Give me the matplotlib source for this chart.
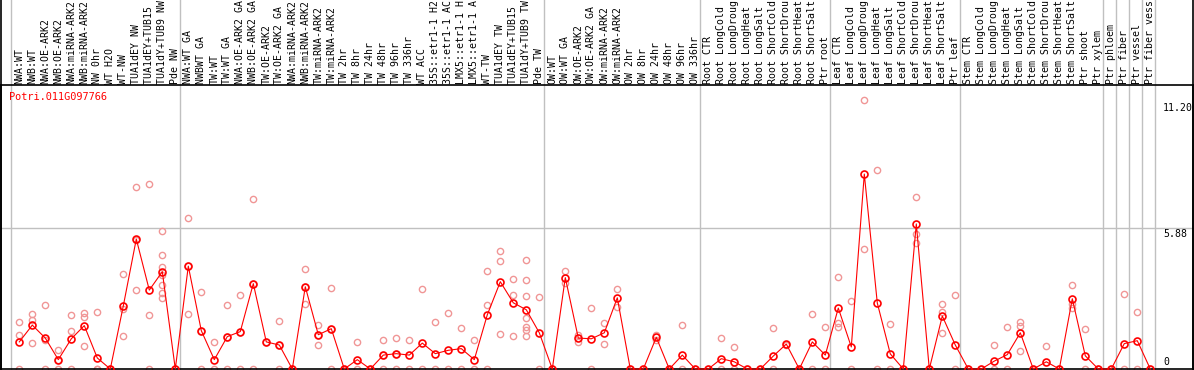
import matplotlib
matplotlib.use('Agg')
import matplotlib.pyplot as plt
import matplotlib.transforms as mtransforms

# sample names, one per column (shown cut to 14 characters, as in the original)
labels = [
    'NWA:WT', 'NWB:WT', 'NWA:OE-ARK2', 'NWB:OE-ARK2', 'NWA:miRNA-ARK2', 'NWB:miRNA-ARK2',
    'NW 0hr', 'WT H2O', 'WT-NW', 'TUA1dEY NW', 'TUA1dEY+TUB15 NW', 'TUA1dY+TUB9 NW', 'Pde NW',
    'NWA:WT GA', 'NWBWT GA', 'TW:WT', 'TW:WT GA', 'NWA:OE-ARK2 GA', 'NWB:OE-ARK2 GA',
    'TW:OE-ARK2', 'TW:OE-ARK2 GA', 'NWA:miRNA-ARK2', 'NWB:miRNA-ARK2', 'TW:miRNA-ARK2',
    'TW:miRNA-ARK2', 'TW 2hr', 'TW 8hr', 'TW 24hr', 'TW 48hr', 'TW 96hr', 'TW 336hr',
    'WT ACC', '35S::etr1-1 H2O', '35S::etr1-1 ACC', 'LMX5::etr1-1 H2O', 'LMX5::etr1-1 ACC',
    'WT-TW', 'TUA1dEY TW', 'TUA1dEY+TUB15 TW', 'TUA1dY+TUB9 TW', 'Pde TW',
    'OW:WT', 'OW:WT GA', 'OW:OE-ARK2', 'OW:OE-ARK2 GA', 'OW:miRNA-ARK2', 'OW:miRNA-ARK2',
    'OW 2hr', 'OW 8hr', 'OW 24hr', 'OW 48hr', 'OW 96hr', 'OW 336hr',
    'Root CTR', 'Root LongCold', 'Root LongDrought', 'Root LongHeat', 'Root LongSalt',
    'Root ShortCold', 'Root ShortDrought', 'Root ShortHeat', 'Root ShortSalt', 'Ptr root',
    'Leaf CTR', 'Leaf LongCold', 'Leaf LongDrought', 'Leaf LongHeat', 'Leaf LongSalt',
    'Leaf ShortCold', 'Leaf ShortDrought', 'Leaf ShortHeat', 'Leaf ShortSalt', 'Ptr leaf',
    'Stem CTR', 'Stem LongCold', 'Stem LongDrought', 'Stem LongHeat', 'Stem LongSalt',
    'Stem ShortCold', 'Stem ShortDrought', 'Stem ShortHeat', 'Stem ShortSalt', 'Ptr shoot',
    'Ptr xylem', 'Ptr phloem', 'Ptr fiber', 'Ptr vessel', 'Ptr fiber vessel',
]

# mean expression per sample
means = [
    1.13, 1.83, 1.29, 0.39, 1.26, 1.81, 0.46, 0, 2.63, 5.42, 3.29, 4.06, 0,
    4.29, 1.6, 0.39, 1.35, 1.56, 3.56, 1.13, 1.0, 0, 3.43, 1.43, 1.68, 0, 0.39,
    0, 0.58, 0.64, 0.58, 1.08, 0.64, 0.78, 0.85, 0.39, 2.26, 3.64, 2.76, 2.47, 1.51,
    0, 3.81, 1.29, 1.26, 1.51, 2.97, 0, 0, 1.32, 0, 0.58, 0,
    0, 0.43, 0.3, 0, 0, 0.54, 1.04, 0, 1.13, 0.58,
    2.54, 0.92, 8.13, 2.75, 0.63, 0, 6.05, 0, 2.21, 1.0,
    0, 0, 0.33, 0.6, 1.51, 0, 0.3, 0, 2.93, 0.55, 0,
    0, 1.06, 1.18, 0,
]

# individual replicate values per sample
reps = [
    [1.96, 1.43, 0], [2.31, 2.06, 1.08], [2.68, 1.19, 0], [0.80, 0.37, 0],
    [2.26, 1.6, 0], [2.33, 2.17, 0.97], [2.36, 0, 0], [0, 0],
    [3.96, 2.5, 1.36], [7.59, 5.38, 3.29], [7.71, 2.26, 0],
    [5.77, 4.77, 4.24, 3.9, 3.52, 3.15, 2.96], [0],
    [6.3, 4.29, 2.31], [3.21, 1.6, 0], [1.13, 0], [2.68, 1.35, 0], [3.1, 1.56, 0],
    [7.09, 3.56, 0], [1.13], [2.01, 1.0, 0], [0], [4.18, 3.43, 2.71],
    [1.82, 1.43, 1.0], [3.38, 1.68, 0], [0], [1.13, 0], [0], [1.22, 0.58, 0],
    [1.3, 0.64, 0], [1.22, 0], [3.34, 0], [1.97, 0], [2.35, 0], [1.71, 0],
    [1.22, 0], [4.09, 2.68, 0], [4.93, 4.5, 1.47], [3.75, 3.1, 1.38],
    [4.55, 3.71, 3.06, 2.13, 1.74, 1.64, 1.36], [3.0, 0],
    [0], [4.09, 3.59], [1.42, 1.11], [2.54, 0], [1.93, 1.04], [3.34, 2.6],
    [0], [0], [1.42, 1.19], [0], [1.83, 0], [0],
    [0], [1.3, 0], [0.93, 0], [0], [0], [1.71, 0], [1.0], [0], [2.29, 0], [1.75, 0],
    [3.84, 1.92, 1.76], [2.85, 0], [11.2, 5.02], [8.3, 0], [1.88, 0], [0],
    [7.17, 5.63, 5.25], [0], [2.71, 2.38, 1.51], [3.1, 0],
    [0], [0], [1.0, 0], [1.76, 0], [1.97, 1.81, 0.76], [0], [0.97], [0],
    [3.5, 2.72, 2.56], [1.68, 0], [0],
    [0], [3.14, 0], [2.39, 0], [0],
]

# group boundaries (column index where a new group starts)
group_starts = [0, 13, 41, 53, 63, 73, 84, 85, 86, 87, 88]
y_ticks = [11.20, 5.88, 0]
gene = 'Potri.011G097766'

mono = 'DejaVu Sans Mono'
fsize = 7.1
dark = '#ff0000'
light = '#f09696'
grid = '#c0c0c0'

fig = plt.figure(figsize=(11.94, 3.70), dpi=100)
W, H = 1194.0, 370.0
# plot frame: x 1..1193 px, y 85..369 px (from top)
ax = fig.add_axes([1 / W, (H - 369) / H, 1192 / W, 284 / H])

px_per_col = 13.0
x0_px = 19.3
ax.set_xlim((1 - x0_px) / px_per_col, (1193 - x0_px) / px_per_col)
ax.set_ylim(0, 284 / 23.98)
ax.set_xticks([])
ax.set_yticks([])
for s in ax.spines.values():
    s.set_color('black')
    s.set_linewidth(1.2)

x = list(range(len(means)))
top_val = 369.5 / 23.98

# group separators (run through the label area as well)
for k in group_starts:
    xs = k - 0.64
    ax.plot([xs, xs], [0, top_val], color=grid, lw=1.0, clip_on=False, zorder=1)

# left/right frame lines up through label area
for xs in [(1 - x0_px) / px_per_col, (1193 - x0_px) / px_per_col]:
    ax.plot([xs, xs], [0, top_val], color='black', lw=1.2, clip_on=False, zorder=5)

ax.axhline(y_ticks[1], color=grid, lw=1.0, zorder=1)

# replicates
rx = []
ry = []
for i, r in enumerate(reps):
    for v in r:
        rx.append(i)
        ry.append(v)
ax.plot(rx, ry, linestyle='none', marker='o', markersize=4.5, markerfacecolor='none',
        markeredgecolor=light, markeredgewidth=1.0, clip_on=False, zorder=2)

# mean line
ax.plot(x, means, color=dark, lw=0.8, marker='o', markersize=5.0, markerfacecolor='none',
        markeredgecolor=dark, markeredgewidth=1.2, clip_on=False, zorder=3)

# sample labels above the frame
trans = mtransforms.blended_transform_factory(ax.transData, fig.transFigure)
for i, lab in enumerate(labels):
    ax.text(i, (H - 83.5) / H, lab[:14], transform=trans, rotation=90, ha='center', va='bottom',
            fontsize=fsize, family=mono, color='black', clip_on=False)

# gene name
ax.text(8 / 1192, (369 - 96.5) / 284, gene, transform=ax.transAxes, ha='left', va='center',
        fontsize=7.4, family=mono, color=dark)

# value labels at right
xr = (1163 - x0_px) / px_per_col
ax.text(xr, y_ticks[0] - 0.1, '%.2f' % y_ticks[0], ha='left', va='top', fontsize=fsize, family=mono)
ax.text(xr, y_ticks[1] - 0.05, '%.2f' % y_ticks[1], ha='left', va='top', fontsize=fsize, family=mono)
ax.text(xr, 0.1, '0', ha='left', va='bottom', fontsize=fsize, family=mono)

plt.savefig('out.png', dpi=100)
plt.close('all')
